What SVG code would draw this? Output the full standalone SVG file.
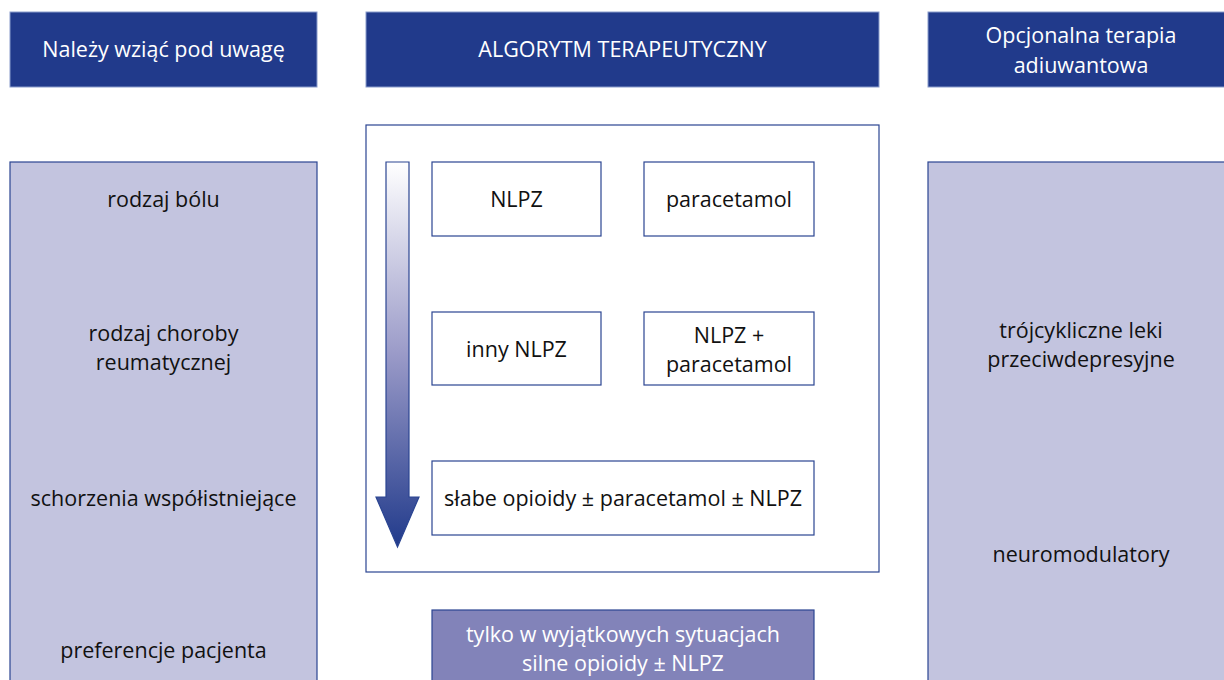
<svg xmlns="http://www.w3.org/2000/svg" width="1224" height="680" viewBox="0 0 1224 680">
<style>
.hdr{fill:#213a8b;stroke:#8a9ccb;stroke-width:1}
.hdr-t{fill:#ffffff;font-family:"Open Sans","Noto Sans",sans-serif;font-size:21.5px;text-anchor:middle}
.panel{fill:#c3c4df;stroke:#2b4592;stroke-width:1.2}
.box{fill:#ffffff;stroke:#2b4592;stroke-width:1.2}
.t{fill:#111111;font-family:"Open Sans","Noto Sans",sans-serif;font-size:21.5px;text-anchor:middle}
.pbox{fill:#8283b9;stroke:#2b4592;stroke-width:1.2}
.pt{fill:#ffffff;font-family:"Open Sans","Noto Sans",sans-serif;font-size:21.5px;text-anchor:middle}
</style>
<defs>
<linearGradient id="ag" x1="0" y1="0" x2="0" y2="1">
<stop offset="0" stop-color="#ffffff"/>
<stop offset="0.5" stop-color="#9a9ac8"/>
<stop offset="1" stop-color="#213a8b"/>
</linearGradient>
</defs>
<rect width="1224" height="680" fill="#ffffff"/>
<g id="header-left"><rect class="hdr" x="10" y="12" width="307" height="75"/><text class="hdr-t" x="163.5" y="57">Należy wziąć pod uwagę</text></g>
<g id="header-center"><rect class="hdr" x="366" y="12" width="513" height="75"/><text class="hdr-t" x="622.5" y="57">ALGORYTM TERAPEUTYCZNY</text></g>
<g id="header-right"><rect class="hdr" x="928" y="12" width="307" height="75"/><text class="hdr-t" x="1081" y="43">Opcjonalna terapia</text><text class="hdr-t" x="1081" y="73">adiuwantowa</text></g>
<g id="panel-left"><rect class="panel" x="10" y="162" width="307" height="530"/>
<text class="t" x="163.5" y="207">rodzaj bólu</text>
<text class="t" x="163.5" y="341">rodzaj choroby</text>
<text class="t" x="163.5" y="370">reumatycznej</text>
<text class="t" x="163.5" y="506">schorzenia współistniejące</text>
<text class="t" x="163.5" y="658">preferencje pacjenta</text>
</g>
<g id="panel-right"><rect class="panel" x="928" y="162" width="307" height="530"/>
<text class="t" x="1081" y="338">trójcykliczne leki</text>
<text class="t" x="1081" y="367">przeciwdepresyjne</text>
<text class="t" x="1081" y="562">neuromodulatory</text>
</g>
<g id="algorithm-frame"><rect class="box" x="366" y="125" width="513" height="447"/></g>
<g id="connectors"><path d="M386,162 H409 V497 H419 L397.5,547 L376,497 H386 Z" fill="url(#ag)" stroke="#2b4592" stroke-width="1.2"/></g>
<g id="nlpz"><rect class="box" x="432" y="162" width="169" height="74"/><text class="t" x="516.5" y="207">NLPZ</text></g>
<g id="paracetamol"><rect class="box" x="644" y="162" width="170" height="74"/><text class="t" x="729" y="207">paracetamol</text></g>
<g id="inny-nlpz"><rect class="box" x="432" y="312" width="169" height="73"/><text class="t" x="516.5" y="357">inny NLPZ</text></g>
<g id="nlpz-paracetamol"><rect class="box" x="644" y="312" width="170" height="73"/><text class="t" x="729" y="343">NLPZ +</text><text class="t" x="729" y="372">paracetamol</text></g>
<g id="slabe-opioidy"><rect class="box" x="432" y="461" width="382" height="74"/><text class="t" x="623" y="506">słabe opioidy ± paracetamol ± NLPZ</text></g>
<g id="silne-opioidy"><rect class="pbox" x="432" y="610" width="382" height="80"/><text class="pt" x="623" y="642">tylko w wyjątkowych sytuacjach</text><text class="pt" x="623" y="671">silne opioidy ± NLPZ</text></g>
</svg>
